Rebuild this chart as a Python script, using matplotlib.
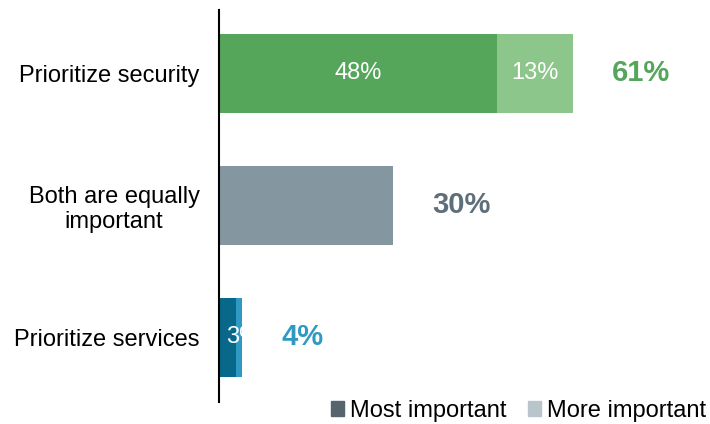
import matplotlib.pyplot as plt
from matplotlib.patches import Patch

plt.rcParams['font.family'] = ['Liberation Sans', 'DejaVu Sans']

categories = ['Prioritize services', 'Both are equally\nimportant', 'Prioritize security']
most = [3, 30, 48]
more = [1, 0, 13]
totals = ['4%', '30%', '61%']
most_labels = ['3%', '', '48%']
more_labels = ['', '', '13%']

most_colors = ['#07688a', '#8497a0', '#55a55a']
more_colors = ['#2e9ac4', '#8497a0', '#8cc68a']
total_colors = ['#2e9ac4', '#5f6f79', '#55a55a']

fig = plt.figure(figsize=(7.1, 4.24), dpi=100)
ax = fig.add_axes([219 / 710, 22 / 424, 481 / 710, 392 / 424])

y = range(len(categories))
ax.barh(y, most, height=0.6, color=most_colors)
ax.barh(y, more, left=most, height=0.6, color=more_colors)

for i in y:
    if most_labels[i]:
        if most[i] < 5:
            ax.text(1.3, i, most_labels[i], ha='left', va='center', color='white', fontsize=17)
        else:
            ax.text(most[i] / 2, i, most_labels[i], ha='center', va='center', color='white', fontsize=17)
    if more_labels[i]:
        ax.text(most[i] + more[i] / 2, i, more_labels[i], ha='center', va='center', color='white', fontsize=17)
    ax.text(most[i] + more[i] + 6.8, i, totals[i], ha='left', va='center',
            color=total_colors[i], fontsize=21, fontweight='bold')

ax.set_xlim(0, 83)
ax.set_ylim(-0.49, 2.48)
ax.set_yticks(list(y))
ax.set_yticklabels(categories, fontsize=17, multialignment='center')
ax.tick_params(axis='y', length=0, pad=14)
ax.set_xticks([])
for s in ['top', 'right', 'bottom']:
    ax.spines[s].set_visible(False)
ax.spines['left'].set_linewidth(1.5)
ax.spines['left'].set_color('black')

handles = [Patch(color='#56646e', label='Most important'),
           Patch(color='#bac4cb', label='More important')]
fig.legend(handles=handles, loc='lower right', bbox_to_anchor=(1.024, -0.045), ncol=2,
           frameon=False, fontsize=17, handlelength=0.55, handleheight=0.55,
           handletextpad=0.25, columnspacing=0.9)

fig.savefig('out.png', dpi=100)
